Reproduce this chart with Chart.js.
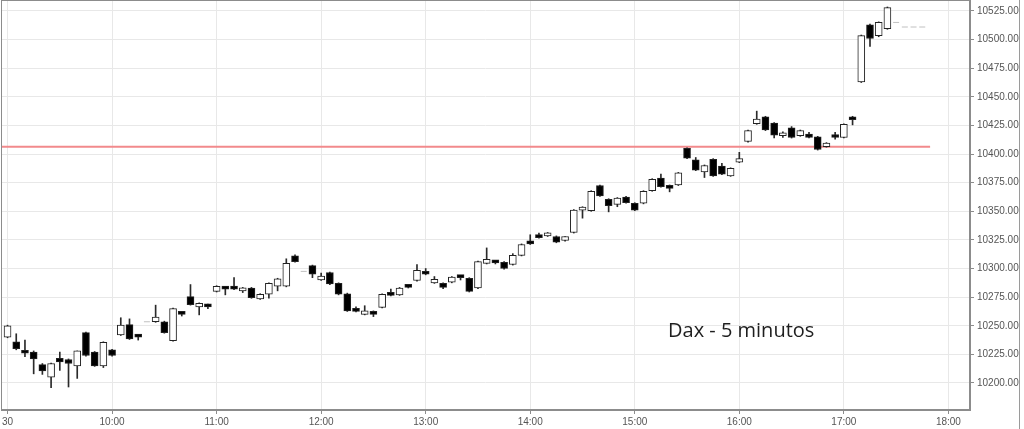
<!DOCTYPE html>
<html>
<head>
<meta charset="utf-8">
<script src="https://cdn.jsdelivr.net/npm/chart.js@4.4.1/dist/chart.umd.min.js"></script>
<style>
  html, body { margin: 0; padding: 0; background: #fff; }
  #wrap { position: relative; width: 1024px; height: 429px; overflow: hidden; }
  #frame { position: absolute; left: 1019px; top: 0; width: 1px; height: 429px; background: #9a9a9a; }
  #title {
    position: absolute; left: 668px; top: 316px;
    font-family: "Open Sans", "Noto Sans", sans-serif; font-size: 20px;
    color: #1e1e1e; white-space: nowrap; line-height: 28px;
  }
</style>
</head>
<body>
<div id="wrap">
  <canvas id="chart" width="1024" height="429"></canvas>
  <div id="frame"></div>
  <div id="title">Dax - 5 minutos</div>
</div>
<script>
// velas de 5 minutos, indice 0 = 09:00
const opens = [
  10240, 10236, 10226.5, 10227, 10216, 10205, 10221.5, 10220.5, 10215, 10244,
  10227, 10215, 10229, 10242, 10251, 10241, 10253.5, 10253.5, 10253.5, 10237,
  10261, 10275.5, 10266.5, 10268.5, 10280, 10283.5, 10283.5, 10280.5, 10283, 10273.5,
  10277.5, 10284.5, 10284.5, 10311, 10297.5, 10302.5, 10290, 10296.5, 10287, 10278,
  10263, 10260, 10262.5, 10266, 10278, 10277, 10284.5, 10289.5, 10296, 10287.5,
  10287, 10288, 10292.5, 10291.5, 10283, 10304.5, 10305.5, 10305.5, 10303.5, 10311.5,
  10322, 10327.5, 10328.5, 10328, 10324.5, 10331.5, 10351, 10350.5, 10372.5, 10360.5,
  10356, 10362.5, 10357, 10357, 10368, 10379, 10370.5, 10373, 10405, 10395,
  10384.5, 10395.5, 10389.5, 10381, 10393, 10411, 10426.5, 10432.5, 10427, 10416,
  10423, 10416, 10417.5, 10415, 10406.5, 10415.5, 10414.5, 10432.5, 10463, 10513,
  10503.5, 10509.5, 10515, 10511, 10511, 10511
];
const highs = [
  10250.5, 10243, 10237.5, 10228, 10217, 10217.5, 10227, 10221, 10228, 10244.5,
  10227.5, 10236, 10229.5, 10257, 10256, 10241.5, 10253.5, 10268, 10254, 10265.5,
  10261.5, 10286, 10270, 10269, 10285, 10284, 10292, 10283.5, 10283.5, 10278,
  10287.5, 10291.5, 10308.5, 10312, 10297.5, 10303, 10296, 10297, 10287.5, 10278.5,
  10266.5, 10267.5, 10263, 10278, 10282, 10283.5, 10286, 10303.5, 10300, 10293,
  10287.5, 10293, 10294, 10292, 10306.5, 10318, 10306, 10306, 10313, 10321.5,
  10329.5, 10331, 10331.5, 10328.5, 10328, 10351.5, 10354, 10368, 10373, 10361,
  10362, 10363, 10357.5, 10368, 10378.5, 10382.5, 10373, 10384, 10405.5, 10397,
  10390.5, 10396, 10392, 10388, 10401.5, 10421, 10437.5, 10433, 10427.5, 10419.5,
  10424, 10421, 10419, 10415.5, 10410, 10419, 10426.5, 10433, 10504, 10513.5,
  10515.5, 10528.5, 10515, 10511, 10511, 10511
];
const lows = [
  10239.5, 10229, 10223, 10208, 10207.5, 10196, 10211, 10196.5, 10204, 10223.5,
  10214.5, 10213.5, 10223.5, 10241.5, 10238, 10237.5, 10253.5, 10253, 10243.5, 10236.5,
  10258.5, 10268, 10259.5, 10265, 10279.5, 10277, 10281.5, 10279, 10274, 10273,
  10274, 10280.5, 10284, 10305.5, 10297.5, 10292, 10289.5, 10286, 10277, 10262.5,
  10262, 10259.5, 10258, 10265.5, 10276, 10276.5, 10283, 10289, 10294.5, 10287,
  10282.5, 10287.5, 10290, 10279.5, 10282.5, 10304, 10304, 10299.5, 10303, 10311,
  10321, 10326.5, 10328, 10322.5, 10324, 10331, 10344, 10350, 10363, 10349.5,
  10354, 10357, 10350.5, 10356.5, 10367.5, 10371, 10367, 10372.5, 10396, 10385.5,
  10379.5, 10380.5, 10382, 10380.5, 10392.5, 10410.5, 10426, 10420.5, 10414, 10414.5,
  10414, 10415.5, 10414, 10403.5, 10406, 10413, 10414, 10425.5, 10462.5, 10494,
  10502.5, 10509, 10515, 10511, 10511, 10511
];
const closes = [
  10250, 10230, 10226, 10221, 10210.5, 10217, 10218.5, 10217, 10228, 10224,
  10215, 10235.5, 10224, 10250.5, 10238.5, 10240, 10253.5, 10257.5, 10244, 10265,
  10260, 10268.5, 10269.5, 10266.5, 10284.5, 10282, 10282, 10283, 10274.5, 10277.5,
  10287, 10291, 10304.5, 10306, 10297.5, 10295, 10293.5, 10286.5, 10277.5, 10263,
  10262.5, 10263, 10260, 10277.5, 10276.5, 10283, 10283.5, 10298.5, 10295, 10290.5,
  10283.5, 10292.5, 10292, 10280, 10306, 10308, 10305, 10300, 10311.5, 10321,
  10321.5, 10327, 10330.5, 10323, 10328, 10351, 10353.5, 10367.5, 10363.5, 10355,
  10361.5, 10357.5, 10351, 10367.5, 10378, 10371.5, 10370, 10383.5, 10396.5, 10386,
  10390, 10381, 10382.5, 10387.5, 10396, 10420.5, 10430.5, 10421, 10416.5, 10418,
  10414.5, 10420.5, 10414.5, 10404, 10409.5, 10414.5, 10426, 10430, 10503.5, 10501,
  10515, 10528, 10515, 10511, 10511, 10511
];

const xTickIdx = [0, 12, 24, 36, 48, 60, 72, 84, 96, 108];
const xTickLabels = ["30", "10:00", "11:00", "12:00", "13:00", "14:00", "15:00", "16:00", "17:00", "18:00"];
const yTicks = [10200, 10225, 10250, 10275, 10300, 10325, 10350, 10375, 10400, 10425, 10450, 10475, 10500, 10525];

// linea horizontal (soporte)
const levelValue = 10406.3;
const levelFrom = -0.75;
const levelTo = 105.9;

const xMin = -0.75, xMax = 110.48;
const yMin = 10176.4, yMax = 10534.6;

// separar velas normales y velas planas (sin movimiento)
const wickData = [], bodyData = [], bodyFill = [], flatData = [];
for (let i = 0; i < opens.length; i++) {
  const flat = highs[i] === lows[i];
  if (flat) {
    flatData.push({ x: i, y: closes[i] });
    continue;
  }
  wickData.push({ x: i, y: [lows[i], highs[i]] });
  bodyData.push({ x: i, y: [opens[i], closes[i]] });
  bodyFill.push(closes[i] >= opens[i] ? "#ffffff" : "#000000");
}

const borderPlugin = {
  id: "plotBorder",
  afterDraw(chart) {
    const { ctx, chartArea: a } = chart;
    ctx.save();
    ctx.strokeStyle = "#8c8c8c";
    ctx.lineWidth = 1;
    ctx.strokeRect(a.left + 0.5, a.top + 0.5, a.right - a.left - 1, a.bottom - a.top - 1);
    ctx.restore();
  }
};

const tickFont = { family: "'Liberation Sans', Arial, sans-serif", size: 10 };

new Chart(document.getElementById("chart"), {
  data: {
    datasets: [
      {
        type: "line",
        data: [{ x: levelFrom, y: levelValue }, { x: levelTo, y: levelValue }],
        borderColor: "#f28a8c",
        borderWidth: 2,
        pointRadius: 0,
        order: 4
      },
      {
        type: "bar",
        data: wickData,
        backgroundColor: "#2a2a2a",
        borderWidth: 0,
        barThickness: 1,
        grouped: false,
        order: 3
      },
      {
        type: "bar",
        data: bodyData,
        backgroundColor: bodyFill,
        borderColor: "#222222",
        borderWidth: 1,
        borderSkipped: false,
        barThickness: 7,
        minBarLength: 3,
        grouped: false,
        order: 2
      },
      {
        type: "scatter",
        data: flatData,
        pointStyle: "line",
        pointRadius: 3,
        borderColor: "#c0c0c0",
        borderWidth: 1,
        order: 1
      }
    ]
  },
  options: {
    responsive: false,
    animation: false,
    devicePixelRatio: 1,
    layout: { autoPadding: false, padding: { left: 1, top: 0, right: 5, bottom: 0 } },
    plugins: { legend: { display: false }, tooltip: { enabled: false } },
    scales: {
      x: {
        type: "linear",
        min: xMin,
        max: xMax,
        offset: false,
        afterBuildTicks: (s) => { s.ticks = xTickIdx.map((v) => ({ value: v })); },
        afterFit: (s) => { s.height = 19; s.paddingLeft = 0; s.paddingRight = 0; },
        ticks: {
          autoSkip: false,
          maxRotation: 0,
          color: "#555",
          font: tickFont,
          padding: 2,
          callback: (v, i) => xTickLabels[i]
        },
        grid: { offset: false, color: "#e8e8e8", tickColor: "#8c8c8c", tickLength: 4 },
        border: { color: "#8c8c8c" }
      },
      y: {
        type: "linear",
        position: "right",
        min: yMin,
        max: yMax,
        afterBuildTicks: (s) => { s.ticks = yTicks.map((v) => ({ value: v })); },
        afterFit: (s) => { s.width = 49; s.paddingTop = 0; s.paddingBottom = 0; },
        ticks: {
          color: "#555",
          font: tickFont,
          padding: 3,
          callback: (v) => Number(v).toFixed(2)
        },
        grid: { color: "#e8e8e8", tickColor: "#8c8c8c", tickLength: 4 },
        border: { color: "#8c8c8c" }
      }
    }
  },
  plugins: [borderPlugin]
});
</script>
</body>
</html>
